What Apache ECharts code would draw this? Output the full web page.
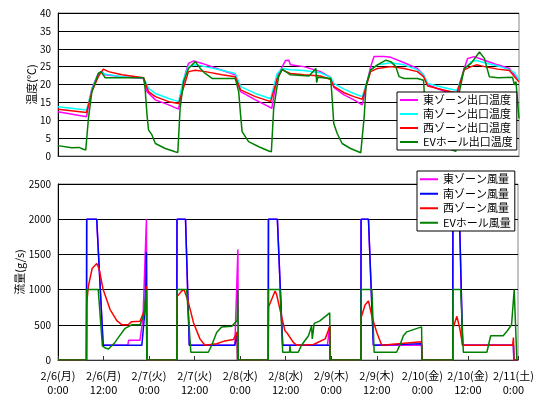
<!DOCTYPE html>
<html><head><meta charset="utf-8">
<script src="https://cdn.jsdelivr.net/npm/echarts@6/dist/echarts.min.js"></script>
<style>html,body{margin:0;padding:0;background:#fff}#c{width:544px;height:397px}</style>
</head><body><div id="c"></div>
<script>
// x values are hours from 2/6 0:00
const xLabels = ['2/6(月)\n0:00','2/6(月)\n12:00','2/7(火)\n0:00','2/7(火)\n12:00','2/8(水)\n0:00','2/8(水)\n12:00','2/9(木)\n0:00','2/9(木)\n12:00','2/10(金)\n0:00','2/10(金)\n12:00','2/11(土)\n0:00'];
const tempNames = ['東ゾーン出口温度','南ゾーン出口温度','西ゾーン出口温度','EVホール出口温度'];
const flowNames = ['東ゾーン風量','南ゾーン風量','西ゾーン風量','EVホール風量'];

const eastTemp = [[0,12.4],[7.5,11.0],[8.9,18.9],[10.6,23.1],[11.5,23.6],[12.4,22.7],[16.8,22.2],[22.5,21.7],[23.4,18.0],[25.6,15.7],[29.1,14.3],[31.7,13.1],
 [33.5,23.1],[34.3,25.9],[35.7,26.6],[37.9,25.9],[43.1,24.0],[46.6,22.7],[48.0,18.0],[51.9,15.7],[55.4,13.8],[56.2,13.3],
 [57.6,22.2],[59.8,26.7],[60.7,26.8],[61.1,25.5],[64.6,25.0],[69.0,23.6],[71.7,22.0],[72.5,19.2],[75.2,17.1],[77.8,15.7],[80.0,14.3],
 [81.3,20.8],[82.2,25.0],[83.1,27.8],[85.7,27.8],[87.5,27.6],[91.0,26.1],[94.5,24.5],[96.1,22.7],[97.2,20.0],[99.8,18.8],[103.3,17.5],[104.9,17.0],
 [105.9,21.3],[106.8,24.5],[107.7,27.3],[109.4,27.8],[112.1,26.8],[115.6,25.5],[118.7,24.5],[120.0,22.7],[121.2,21.3]];
const southTemp = [[0,13.8],[7.5,12.9],[8.9,18.5],[10.6,23.1],[11.5,23.4],[12.4,22.9],[16.8,22.2],[22.5,21.9],[23.8,18.9],[25.6,17.5],[29.1,16.1],[31.7,15.2],
 [33.0,21.5],[34.3,25.0],[36.1,25.5],[38.7,25.0],[43.1,24.0],[46.6,23.1],[48.0,19.4],[51.9,17.5],[55.9,16.0],[56.3,15.7],
 [57.6,23.0],[58.9,24.5],[61.1,24.1],[64.6,23.9],[69.0,23.3],[71.7,22.0],[72.5,20.3],[75.2,18.7],[77.8,17.5],[80.0,16.6],
 [82.2,24.1],[84.0,25.5],[87.5,26.1],[91.0,25.5],[94.5,24.1],[96.1,22.7],[97.2,20.3],[99.8,19.6],[103.3,18.7],[104.9,18.3],
 [106.8,24.1],[108.6,26.4],[110.0,26.7],[112.1,26.1],[115.6,25.2],[118.7,24.1],[120.0,23.3],[121.2,21.3]];
const westTemp = [[0,13.1],[7.5,12.2],[8.9,18.0],[10.6,22.2],[11.9,24.3],[13.3,23.6],[16.8,22.7],[22.5,21.9],[23.8,18.0],[25.6,16.6],[29.1,15.2],[31.7,14.7],
 [33.5,20.8],[34.3,23.6],[36.1,24.0],[38.7,23.6],[43.1,22.7],[46.6,22.2],[48.0,18.5],[51.9,16.6],[55.9,15.2],[56.3,15.2],
 [57.6,21.5],[58.9,24.1],[61.1,23.1],[64.6,22.7],[69.0,22.4],[71.7,21.4],[72.5,19.5],[75.2,17.7],[77.8,16.6],[80.0,15.9],
 [82.2,23.6],[84.0,24.5],[87.5,25.0],[91.0,24.5],[94.5,23.6],[96.1,22.2],[97.2,19.6],[99.8,18.9],[103.3,18.0],[104.9,17.7],
 [106.8,24.1],[108.6,25.0],[110.0,25.5],[112.1,25.0],[115.6,24.3],[118.7,23.9],[120.0,22.2],[121.2,20.8]];
const evTemp = [[0,2.9],[3.6,2.3],[5.5,2.4],[6.7,1.9],[7.3,1.7],[8.0,10.5],[8.9,18.0],[10.6,23.1],[11.3,23.6],[12.4,21.9],[16.8,21.9],[22.5,21.9],[22.9,18.9],[23.4,11.5],[23.8,7.3],[24.7,5.9],[25.6,3.5],[28.2,2.1],[30.8,1.2],[31.5,1.0],
 [32.1,13.3],[33.0,20.8],[34.3,24.5],[36.1,26.4],[37.4,24.5],[38.7,23.1],[40.5,21.7],[46.6,21.7],[47.5,18.0],[48.0,11.5],[48.4,6.8],[50.1,4.0],[52.8,2.6],[55.4,1.4],[56.1,1.2],
 [56.7,13.3],[58.0,22.2],[58.9,24.3],[61.1,22.7],[66.0,22.4],[67.8,24.5],[68.0,20.5],[68.3,22.0],[71.7,21.7],[72.1,15.7],[72.5,9.1],[73.4,6.3],[74.7,3.5],[76.9,2.1],[79.6,0.9],[80.0,0.8],
 [80.5,11.0],[81.0,19.9],[82.2,24.1],[84.0,25.5],[86.2,26.8],[87.5,26.4],[88.8,25.0],[89.7,22.2],[91.0,21.7],[94.5,21.7],[96.1,21.2],[96.4,15.7],[96.7,10.1],[97.5,6.5],[99.0,4.0],[101.5,2.5],[104.0,1.5],[104.6,1.3],
 [105.5,17.8],[106.8,24.5],[108.6,25.9],[110.8,29.1],[112.1,27.3],[113.4,22.2],[115.6,21.9],[119.5,22.0],[120.0,19.9],[120.4,20.8],[121.2,10.5]];

const eastFlow = [[0,0],[7.5,0],[7.56,2000],[10.2,2000],[11.9,210],[18.4,210],[18.6,280],[21.6,280],[22.4,600],[23.3,2000],[23.4,0],
 [31.3,0],[31.35,2000],[33.6,2000],[34.6,210],[46.6,210],[47.4,1570],[47.5,0],
 [55.4,0],[55.45,2000],[57.8,2000],[59.2,210],[71.0,210],[71.6,500],[71.7,0],
 [79.8,0],[79.85,2000],[81.8,2000],[83.1,210],[95.8,210],[95.9,0],
 [104.0,0],[104.05,2000],[105.8,2000],[106.6,210],[120.0,210],[120.1,0],[121.2,0]];
const southFlow = [[0,0],[7.5,0],[7.56,2000],[10.2,2000],[11.9,210],[22.1,210],[22.9,700],[23.3,1530],[23.4,0],
 [31.3,0],[31.35,2000],[33.6,2000],[34.6,210],[46.6,210],[47.2,380],[47.3,0],
 [55.4,0],[55.45,2000],[57.8,2000],[59.2,210],[71.7,210],[71.75,0],
 [79.8,0],[79.85,2000],[81.8,2000],[83.1,210],[95.8,230],[95.9,0],
 [104.0,0],[104.05,2000],[105.8,2000],[106.6,210],[120.0,210],[120.1,0],[121.2,0]];
const westFlow = [[0,0],[7.5,0],[7.56,800],[8.0,1050],[9.0,1300],[10.2,1370],[10.8,1300],[11.9,1000],[13.7,720],[15.5,560],[16.8,500],[18.5,500],[19.4,545],[21.6,550],[22.9,720],[23.3,1050],[23.4,0],
 [31.3,0],[31.35,900],[32.6,980],[33.2,1000],[34.3,830],[35.7,530],[37.4,300],[38.7,210],[41.8,230],[43.6,265],[46.2,290],[47.2,400],[47.3,0],
 [55.4,0],[55.45,750],[57.2,980],[57.6,930],[58.9,620],[59.8,415],[60.4,380],[60.7,370],[62.0,250],[62.9,210],[67.3,220],[70.4,300],[71.7,490],[71.75,0],
 [79.8,0],[79.85,600],[80.9,780],[81.8,840],[82.7,620],[84.0,390],[85.3,210],[95.8,260],[95.9,0],
 [104.0,0],[104.05,450],[105.1,620],[105.9,440],[106.6,210],[119.8,210],[120.0,320],[120.1,0],[121.2,0]];
const evFlow = [[0,0],[7.5,0],[7.56,1000],[10.6,1000],[11.7,200],[12.5,170],[13.3,155],[15.0,250],[16.3,350],[17.7,450],[19.4,500],[21.6,500],[22.7,650],[23.3,1000],[23.4,0],
 [31.3,0],[31.35,1000],[33.9,1000],[35.0,110],[39.6,110],[40.5,210],[41.8,390],[43.1,470],[45.8,480],[47.2,560],[47.4,1000],[47.5,0],
 [55.4,0],[55.45,1000],[58.5,1000],[59.2,110],[61.0,110],[61.1,200],[61.3,110],[63.3,110],[64.2,214],[66.0,345],[66.8,485],[67.0,300],[67.3,300],[67.5,520],[69.0,555],[71.6,670],[71.7,0],
 [79.8,0],[79.85,1000],[82.7,1000],[83.3,110],[89.2,110],[90.1,214],[91.0,345],[91.9,400],[95.8,470],[95.9,0],
 [104.0,0],[104.05,1000],[106.1,1000],[106.8,110],[113.0,110],[114.0,345],[117.3,345],[118.4,415],[119.5,500],[120.2,1000],[120.9,0],[121.2,0]];

const FONT = 'Noto Sans CJK JP';
const chart = echarts.init(document.getElementById('c'), null, {renderer:'canvas'});
function xAx(idx, showLabels){
  return {type:'value', gridIndex:idx, min:0, max:121.2, interval:12,
    axisLine:{show:true, lineStyle:{color:'#333', width:1}},
    axisTick:{show:showLabels, inside:true, length:4, lineStyle:{color:'#333'}},
    axisLabel:{show:showLabels, color:'#000', fontSize:11, fontFamily:FONT, lineHeight:14, margin:9,
      formatter:function(v){const i=Math.round(v/12); return (Math.abs(v-i*12)<1e-6 && xLabels[i]) ? xLabels[i] : '';}},
    splitLine:{show:false}};
}
function yAx(idx, max, interval, name, gap){
  return {type:'value', gridIndex:idx, min:0, max:max, interval:interval, name:name,
    nameLocation:'middle', nameGap:gap, nameRotate:90, nameMoveOverlap:false,
    nameTextStyle:{color:'#000', fontSize:11, fontFamily:FONT},
    axisLine:{show:true, lineStyle:{color:'#000'}}, axisTick:{show:false},
    axisLabel:{color:'#000', fontSize:10, fontFamily:FONT, margin:7, formatter:function(v){return String(v);}},
    splitLine:{show:true, lineStyle:{color:'#000', width:1}}};
}
function ser(name, data, color, xi, yi){
  return {name:name, type:'line', data:data, xAxisIndex:xi, yAxisIndex:yi, showSymbol:false, symbol:'none',
    lineStyle:{color:color, width:1.5}, itemStyle:{color:color}, animation:false};
}
const legendBase = {orient:'vertical', icon:'rect', itemWidth:18, itemHeight:2, itemGap:0,
  backgroundColor:'#fff', borderColor:'#000', borderWidth:1, padding:[1,4,1,3],
  textStyle:{fontSize:11, fontFamily:FONT, color:'#000', lineHeight:14}};
chart.setOption({
  animation:false,
  grid:[{left:58, top:13, width:461, height:143, show:true, borderColor:'#888', borderWidth:1},
        {left:58, top:184, width:460, height:179, show:true, borderColor:'#888', borderWidth:1}],
  xAxis:[xAx(0,false), xAx(1,true)],
  yAxis:[yAx(0,40,5,'温度(℃)',21), yAx(1,2500,500,'流量(g/s)',33)],
  legend:[Object.assign({}, legendBase, {data:tempNames, left:397, top:92}),
          Object.assign({}, legendBase, {data:flowNames, left:417, top:171, textStyle:Object.assign({}, legendBase.textStyle, {lineHeight:14.5})})],
  series:[
    ser(tempNames[0], eastTemp, '#FF00FF', 0, 0),
    ser(tempNames[1], southTemp, '#00FFFF', 0, 0),
    ser(tempNames[2], westTemp, '#FF0000', 0, 0),
    ser(tempNames[3], evTemp, '#008000', 0, 0),
    ser(flowNames[0], eastFlow, '#FF00FF', 1, 1),
    ser(flowNames[1], southFlow, '#0000FF', 1, 1),
    ser(flowNames[2], westFlow, '#FF0000', 1, 1),
    ser(flowNames[3], evFlow, '#008000', 1, 1)
  ]
});
</script></body></html>
